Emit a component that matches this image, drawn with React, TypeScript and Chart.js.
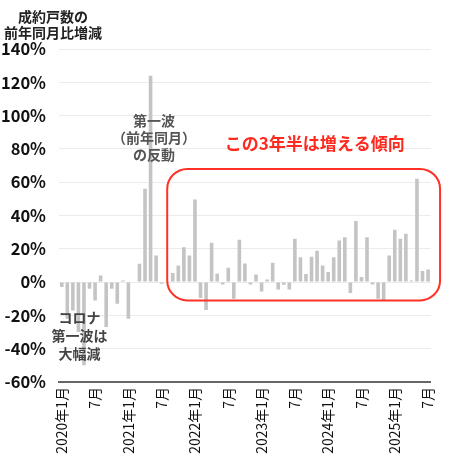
import { useEffect, useRef } from 'react';
import { Chart, registerables } from 'chart.js';
import type { Plugin } from 'chart.js';

Chart.register(...registerables);

// 成約戸数の前年同月比増減 (%), 2020年1月〜2025年7月
const years = [2020, 2021, 2022, 2023, 2024, 2025];
const v2020 = [-3, -22, -17, -30, -50, -4, -11, 4, -27, -4, -13, 1];
const v2021 = [-22, 0, 11, 56, 124, 16, -1, 0.5, 5.4, 10, 21, 16];
const v2022 = [49.6, -9.6, -16.7, 23.7, 5, -1.4, 8.6, -10, 25.5, 11.2, -1.4, 4.6];
const v2023 = [-5.6, 1.6, 11.6, -4.4, -1.6, -4.4, 26, 14.9, 4.8, 15.3, 18.9, 10];
const v2024 = [6, 14.9, 25, 27, -6.5, 36.7, 3, 27, -1.4, -10, -11, 16];
const v2025 = [31.5, 26, 29, 1, 62, 6.6, 7.6];

const yTicks = [-60, -40, -20, 0, 20, 40, 60, 80, 100, 120, 140];

const values = [...v2020, ...v2021, ...v2022, ...v2023, ...v2024, ...v2025];
const labels: string[] = [];
years.forEach((yr, yi) => {
  const n = [v2020, v2021, v2022, v2023, v2024, v2025][yi].length;
  for (let m = 1; m <= n; m++) labels.push(m === 1 ? `${yr}年1月` : `${m}月`);
});

const FONT = "'Noto Sans CJK JP', 'Noto Sans', sans-serif";

const notes: Plugin<'bar'> = {
  id: 'notes',
  afterDraw(chart) {
    const { ctx } = chart;
    const x = chart.scales.x;
    const y = chart.scales.y;
    ctx.save();
    ctx.textAlign = 'center';
    ctx.textBaseline = 'middle';

    // title
    ctx.fillStyle = '#222';
    ctx.font = `bold 14px ${FONT}`;
    ctx.fillText('成約戸数の', 53, 17);
    ctx.fillText('前年同月比増減', 53, 33);

    // red box
    const x1 = x.getPixelForValue(19);
    const x2 = x.getPixelForValue(66) + 12;
    const y1 = y.getPixelForValue(68);
    const y2 = y.getPixelForValue(-11);
    ctx.strokeStyle = '#ff3126';
    ctx.lineWidth = 2;
    ctx.beginPath();
    ctx.roundRect(x1, y1, x2 - x1, y2 - y1, 20);
    ctx.stroke();

    ctx.fillStyle = '#ff2a1f';
    ctx.font = `bold 17px ${FONT}`;
    ctx.fillText('この3年半は増える傾向', (x1 + x2) / 2 + 11, y.getPixelForValue(83.5));

    // grey notes
    ctx.fillStyle = '#555';
    ctx.font = `bold 14px ${FONT}`;
    const cx1 = x.getPixelForValue(16.6);
    const ty1 = y.getPixelForValue(97);
    ['第一波', '（前年同月）', 'の反動'].forEach((t, i) => ctx.fillText(t, cx1, ty1 + i * 17));

    ctx.fillStyle = '#444';
    const cx2 = x.getPixelForValue(3.2);
    const ty2 = y.getPixelForValue(-21.3);
    ['コロナ', '第一波は', '大幅減'].forEach((t, i) => ctx.fillText(t, cx2, ty2 + i * 18));
    ctx.restore();
  },
};

export default function App() {
  const canvasRef = useRef<HTMLCanvasElement>(null);

  useEffect(() => {
    document.body.style.margin = '0';
    if (!canvasRef.current) return;
    Chart.defaults.font.family = FONT;
    const chart = new Chart(canvasRef.current, {
      type: 'bar',
      data: {
        labels,
        datasets: [
          {
            data: values,
            backgroundColor: '#c4c4c4',
            barPercentage: 0.65,
            categoryPercentage: 1,
          },
        ],
      },
      options: {
        animation: false,
        responsive: true,
        maintainAspectRatio: false,
        layout: { padding: { top: 49, right: 18, left: 0, bottom: 0 } },
        plugins: { legend: { display: false }, tooltip: { enabled: false } },
        scales: {
          x: {
            grid: { display: false, drawTicks: false },
            border: { display: true, color: '#666', width: 2 },
            ticks: {
              autoSkip: false,
              maxRotation: 90,
              minRotation: 90,
              padding: 5,
              color: '#111',
              font: { size: 14 },
              callback: (_v, i) => (i % 6 === 0 ? labels[i] : ''),
            },
            afterFit: (s) => {
              s.height = 77;
            },
          },
          y: {
            min: -60,
            max: 140,
            afterBuildTicks: (s) => {
              s.ticks = yTicks.map((v) => ({ value: v }));
            },
            grid: { color: '#ebebeb', lineWidth: 1, drawTicks: false },
            border: { display: false },
            ticks: {
              padding: 13,
              color: '#111',
              font: { size: 16.5, weight: 'bold' },
              callback: (v) => `${v}%`,
            },
            afterFit: (s) => {
              s.width = 59;
            },
          },
        },
      },
      plugins: [notes],
    });
    return () => chart.destroy();
  }, []);

  return (
    <div style={{ position: 'relative', width: 450, height: 459 }}>
      <canvas ref={canvasRef} />
    </div>
  );
}
